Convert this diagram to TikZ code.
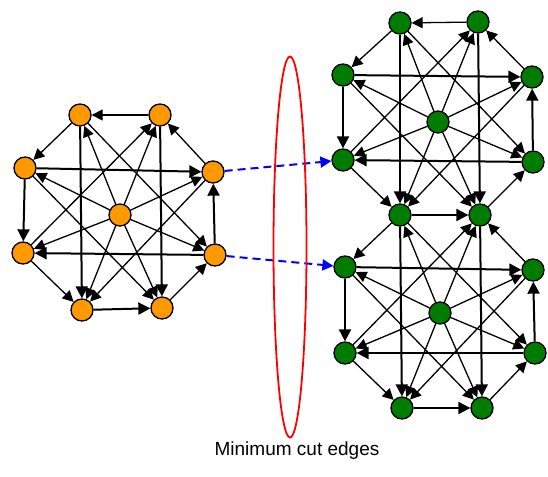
\documentclass[tikz,border=0pt]{standalone}
\usepackage{fontspec}
\setmainfont{Liberation Sans}
\usetikzlibrary{arrows.meta,shapes.geometric}
\definecolor{vorange}{RGB}{255,153,0}
\definecolor{vgreen}{RGB}{0,125,0}
\tikzset{
  vtx/.style={circle,draw=black,line width=1.3pt,minimum size=22pt,inner sep=0pt},
  onode/.style={vtx,fill=vorange},
  gnode/.style={vtx,fill=vgreen},
  e/.style={draw=black,line width=1.3pt,-{Triangle[length=11pt,width=11pt]}},
  eb/.style={draw=black,line width=2pt,-{Triangle[length=12pt,width=12pt]}},
  cutedge/.style={draw=blue,line width=2pt,dash pattern=on 8pt off 5pt,-{Triangle[length=11pt,width=11pt]}},
}
\newif\ifskiptopedge
\newcommand\drawcluster[9]{%
  \ifskiptopedge\else\draw[e] (#2)--(#1);\fi
  \draw[e] (#1)--(#3); \draw[eb] (#3)--(#5);
  \draw[e] (#5)--(#7); \draw[eb] (#7)--(#8); \draw[e] (#8)--(#6);
  \draw[eb] (#6)--(#4); \draw[e] (#4)--(#2);
  \draw[eb] (#3)--(#4); \draw[eb] (#6)--(#5);
  \draw[eb] (#1)--(#7); \draw[eb] (#2)--(#8);
  \foreach \n in {#1,#2,#3,#4,#5,#6,#7,#8} {\draw[e] (#9)--(\n);}
  \draw[e] (#5)--(#2); \draw[e] (#4)--(#7);
  \draw[e] (#1)--(#6); \draw[e] (#3)--(#8);
}
\begin{document}
\begin{tikzpicture}[x=1pt,y=-1pt]
\useasboundingbox (0,0) rectangle (548,476);
% orange cluster
\node[onode] (oTL) at (80,115) {};
\node[onode] (oTR) at (160,115) {};
\node[onode] (oLU) at (25,168) {};
\node[onode] (oRU) at (213,172) {};
\node[onode] (oLL) at (23,253) {};
\node[onode] (oRL) at (215,255) {};
\node[onode] (oBL) at (82,310) {};
\node[onode] (oBR) at (162,308) {};
\node[onode] (oC) at (120,215) {};
% green upper
\node[gnode] (gTL) at (400,23) {};
\node[gnode] (gTR) at (478,22) {};
\node[gnode] (gLU) at (343,75) {};
\node[gnode] (gRU) at (532,77) {};
\node[gnode] (gLL) at (343,160) {};
\node[gnode] (gRL) at (533,162) {};
\node[gnode] (gBL) at (400,215) {};
\node[gnode] (gBR) at (480,215) {};
\node[gnode] (gC) at (438,122) {};
% green lower
\node[gnode] (hLU) at (345,267) {};
\node[gnode] (hRU) at (533,270) {};
\node[gnode] (hLL) at (345,353) {};
\node[gnode] (hRL) at (535,353) {};
\node[gnode] (hBL) at (402,408) {};
\node[gnode] (hBR) at (482,408) {};
\node[gnode] (hC) at (440,313) {};
\drawcluster{oTL}{oTR}{oLU}{oRU}{oLL}{oRL}{oBL}{oBR}{oC}
\drawcluster{gTL}{gTR}{gLU}{gRU}{gLL}{gRL}{gBL}{gBR}{gC}
\skiptopedgetrue
\drawcluster{gBL}{gBR}{hLU}{hRU}{hLL}{hRL}{hBL}{hBR}{hC}
% cut
\draw[cutedge] (oRU) -- (gLL);
\draw[cutedge] (oRL) -- (hLU);
\node[ellipse,draw=red,line width=1.8pt,minimum width=33pt,minimum height=381pt,inner sep=0pt] (cut) at (290,247) {};
\node[font=\fontsize{19}{22}\selectfont,inner sep=0pt] (lbl) at (297,451) {Minimum cut edges};
\end{tikzpicture}
\end{document}
